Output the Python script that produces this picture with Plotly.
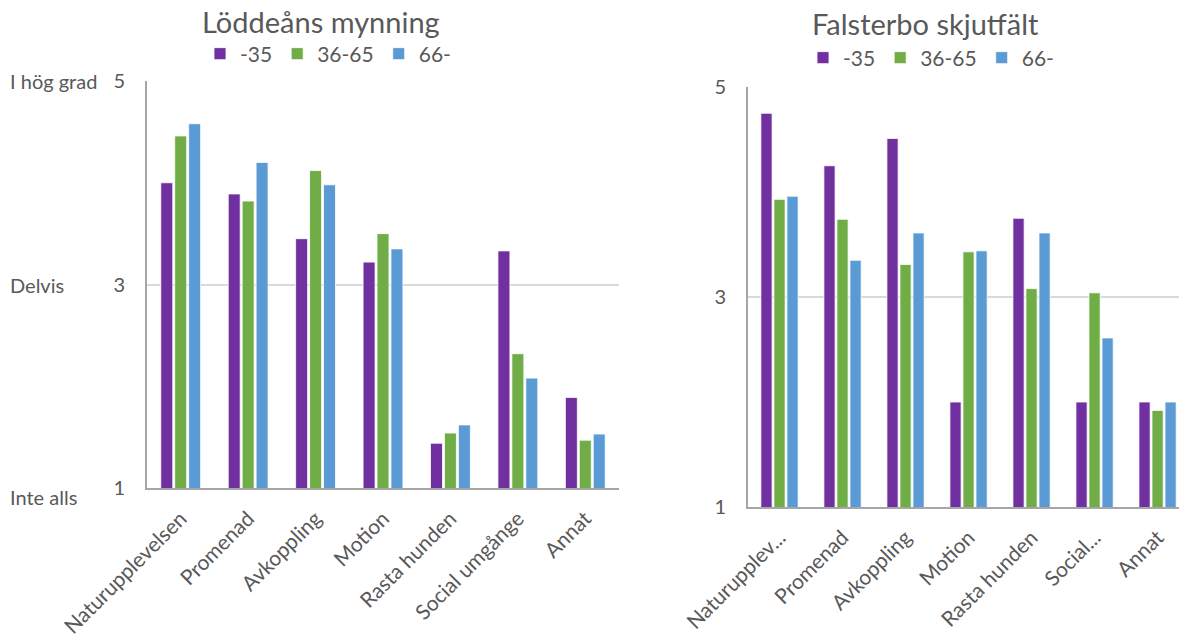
import plotly.graph_objects as go

categories_left = ["Naturupplevelsen", "Promenad", "Avkoppling", "Motion", "Rasta hunden", "Social umgånge", "Annat"]
categories_right = ["Naturupplev...", "Promenad", "Avkoppling", "Motion", "Rasta hunden", "Social...", "Annat"]
series_names = ["-35", "36-65", "66-"]

lodde_35 = [4.00, 3.89, 3.45, 3.22, 1.44, 3.33, 1.89]
lodde_36_65 = [4.46, 3.82, 4.12, 3.50, 1.54, 2.32, 1.47]
lodde_66 = [4.58, 4.20, 3.98, 3.35, 1.62, 2.08, 1.53]

falster_35 = [4.75, 4.25, 4.51, 2.00, 3.75, 2.00, 2.00]
falster_36_65 = [3.93, 3.74, 3.31, 3.43, 3.08, 3.04, 1.92]
falster_66 = [3.96, 3.35, 3.61, 3.44, 3.61, 2.61, 2.00]

ytick_vals = [1, 3, 5]
scale_labels = ["Inte alls", "Delvis", "I hög grad"]

colors = ["#7030A0", "#70AD47", "#5B9BD5"]
FONT = "Lato"
TXT = "#595959"

fig = go.Figure()
for name, vals, c in zip(series_names, [lodde_35, lodde_36_65, lodde_66], colors):
    fig.add_trace(go.Bar(x=categories_left, y=vals, name=name, marker=dict(color=c, line=dict(color="white", width=0.8)),
                         xaxis="x", yaxis="y", legend="legend"))
for name, vals, c in zip(series_names, [falster_35, falster_36_65, falster_66], colors):
    fig.add_trace(go.Bar(x=categories_right, y=vals, name=name, marker=dict(color=c, line=dict(color="white", width=0.8)),
                         xaxis="x2", yaxis="y2", legend="legend2"))

W, H = 1179, 639
axis_common = dict(showgrid=False, showline=True, linecolor="#A6A6A6", linewidth=2, ticks="", automargin=False,
                   tickangle=-45, ticklabelstandoff=8, tickfont=dict(family=FONT, size=21, color=TXT))
yaxis_common = dict(range=[1, 5], tickvals=ytick_vals, showgrid=True, gridcolor="#D9D9D9", gridwidth=2,
                    showline=True, linecolor="#A6A6A6", linewidth=2, zeroline=False, ticks="", automargin=False,
                    ticklabelstandoff=16, tickfont=dict(family=FONT, size=20, color=TXT))

fig.update_layout(
    width=W, height=H,
    margin=dict(l=0, r=0, t=0, b=0, autoexpand=False),
    paper_bgcolor="white", plot_bgcolor="white",
    barmode="group", bargap=0.38, bargroupgap=0.14,
    font=dict(family=FONT, color=TXT),
    xaxis=dict(domain=[147 / W, 619 / W], anchor="y", range=[-0.5, 6.5], **axis_common),
    yaxis=dict(domain=[1 - 488 / H, 1 - 81 / H], anchor="x", **yaxis_common),
    xaxis2=dict(domain=[748 / W, 1.0], anchor="y2", range=[-0.5, 6.34], **axis_common),
    yaxis2=dict(domain=[1 - 507 / H, 1 - 87 / H], anchor="x2", **yaxis_common),
    legend=dict(orientation="h", x=328 / W, y=1 - 54 / H, xanchor="center", yanchor="middle",
                font=dict(family=FONT, size=21, color=TXT), itemwidth=30, traceorder="normal"),
    legend2=dict(orientation="h", x=931 / W, y=1 - 58 / H, xanchor="center", yanchor="middle",
                 font=dict(family=FONT, size=21, color=TXT), itemwidth=30, traceorder="normal"),
    annotations=[
        dict(text="Löddeåns mynning", x=321 / W, y=1 - 21 / H, xref="paper", yref="paper",
             xanchor="center", yanchor="middle",
             showarrow=False, font=dict(family=FONT, size=29, color=TXT)),
        dict(text="Falsterbo skjutfält", x=925 / W, y=1 - 24 / H, xref="paper", yref="paper",
             xanchor="center", yanchor="middle",
             showarrow=False, font=dict(family=FONT, size=29, color=TXT)),
    ],
)
for val, lab in zip(ytick_vals, scale_labels):
    fig.add_annotation(text=lab, x=8 / W, xref="paper", y=val, yref="y", xanchor="left", yanchor="middle",
                       yshift=-9 if val == 1 else 0, showarrow=False,
                       font=dict(family=FONT, size=20, color=TXT))

fig.write_html("out.html", config={"displayModeBar": False},
               post_script="document.body.style.margin='0';")
